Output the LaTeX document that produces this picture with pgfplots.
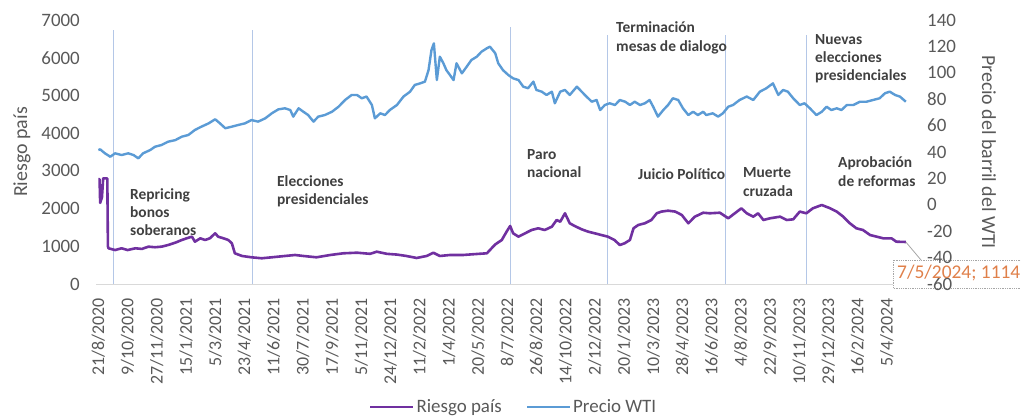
\documentclass[border=0pt]{standalone}
\usepackage{pgfplots}
\pgfplotsset{compat=1.18}
\usepackage{fontspec}
\setmainfont{Carlito}
\definecolor{purp}{HTML}{7030A0}
\definecolor{blu}{HTML}{5B9BD5}
\definecolor{vline}{HTML}{B4C7E7}
\definecolor{txtgray}{HTML}{595959}
\definecolor{anngray}{HTML}{404040}
\definecolor{axgray}{HTML}{D9D9D9}
\definecolor{callorange}{HTML}{E0804A}
\newcommand\tickfont{\fontsize{19}{22}\selectfont}
\newcommand\xtickfont{\fontsize{18}{20}\selectfont}
\newcommand\annfont{\fontsize{15.5}{18}\selectfont\bfseries}
\begin{document}
\begin{tikzpicture}
\useasboundingbox (0,0) rectangle (1021bp,418bp);
\begin{axis}[
  at={(96bp,134bp)}, anchor=south west, scale only axis,
  width=814bp, height=264bp,
  xmin=-4, xmax=1362, ymin=0, ymax=7000,
  axis x line*=bottom, axis y line*=left,
  x axis line style={draw=axgray, line width=1bp, -},
  y axis line style={draw=none},
  major tick length=0pt,
  xtick={0,49,...,1323},
  xticklabels={21/8/2020,9/10/2020,27/11/2020,15/1/2021,5/3/2021,23/4/2021,11/6/2021,30/7/2021,17/9/2021,5/11/2021,24/12/2021,11/2/2022,1/4/2022,20/5/2022,8/7/2022,26/8/2022,14/10/2022,2/12/2022,20/1/2023,10/3/2023,28/4/2023,16/6/2023,4/8/2023,22/9/2023,10/11/2023,29/12/2023,16/2/2024,5/4/2024},
  xticklabel style={rotate=90, anchor=east, inner sep=0pt, outer xsep=14bp, font=\xtickfont, text=txtgray},
  ytick={0,1000,...,7000},
  yticklabel style={anchor=east, inner sep=0pt, xshift=-16bp, font=\tickfont, text=txtgray},
  /pgf/number format/assume math mode=true,
  /pgf/number format/1000 sep={},
  ylabel={Riesgo país},
  ylabel style={at={(axis description cs:-0.0909,0.5)}, anchor=center, font=\fontsize{20}{22}\selectfont, text=txtgray},
  clip=false,
]
% event lines
\addplot[vline, line width=1bp, forget plot] coordinates {(25,0) (25,6736)};
\addplot[vline, line width=1bp, forget plot] coordinates {(258,0) (258,6736)};
\addplot[vline, line width=1bp, forget plot] coordinates {(691,0) (691,6815)};
\addplot[vline, line width=1bp, forget plot] coordinates {(855,0) (855,6600)};
\addplot[vline, line width=1bp, forget plot] coordinates {(1053,0) (1053,6600)};
\addplot[vline, line width=1bp, forget plot] coordinates {(1188,0) (1188,6600)};
% Riesgo pais
\addplot[purp, line width=2.6bp, line join=round] coordinates {
(0,2780) (2,2780) (3,2150) (6,2300) (8,2800) (15,2800) (16,1000) (17,947) (28,900) (39,947) (49,900) (62,947) (73,930) (84,990) (95,975) (106,990) (117,1034) (129,1095) (140,1167) (148,1211) (157,1255) (162,1122) (171,1211) (179,1167) (187,1211) (196,1344) (201,1255) (210,1211) (218,1167) (224,1079) (229,814) (241,743) (257,708) (274,682) (291,708) (313,743) (330,769) (344,743) (366,708) (389,769) (411,814) (434,830) (456,800) (467,857) (484,800) (501,780) (517,743) (534,690) (551,743) (562,830) (573,743) (590,769) (612,769) (635,796) (652,814) (657,900) (666,1050) (677,1167) (685,1387) (691,1538) (696,1344) (705,1255) (716,1344) (727,1432) (738,1477) (749,1432) (761,1520) (769,1697) (775,1650) (783,1875) (791,1610) (799,1540) (811,1450) (822,1387) (833,1344) (844,1299) (855,1255) (866,1167) (875,1034) (883,1079) (892,1167) (898,1477) (906,1565) (917,1610) (928,1697) (937,1875) (945,1920) (956,1944) (968,1920) (979,1830) (990,1610) (1001,1785) (1015,1890) (1026,1875) (1043,1890) (1057,1742) (1068,1875) (1079,2007) (1088,1875) (1099,1785) (1107,1875) (1116,1697) (1127,1742) (1144,1785) (1155,1697) (1166,1715) (1177,1920) (1188,1875) (1199,2007) (1214,2095) (1228,2007) (1239,1920) (1250,1785) (1261,1610) (1272,1477) (1283,1432) (1295,1299) (1306,1255) (1317,1211) (1331,1211) (1339,1122) (1355,1114)
};
% callout box and leader
\draw[gray!70, densely dotted, fill=white, line width=0.8bp] (rel axis cs:0.9791,0.0909) rectangle (rel axis cs:1.1597,-0.0152);
\draw[gray!70, line width=0.8bp] (axis cs:1355,1114) -- (rel axis cs:1.0135,0.0909);
\end{axis}
\begin{axis}[
  at={(96bp,134bp)}, anchor=south west, scale only axis,
  width=814bp, height=264bp,
  xmin=-4, xmax=1362, ymin=-60, ymax=140,
  axis x line=none, axis y line*=right,
  y axis line style={draw=none},
  major tick length=0pt,
  ytick={-60,-40,...,140},
  yticklabel style={anchor=west, inner sep=0pt, xshift=17bp, font=\tickfont, text=txtgray},
  /pgf/number format/assume math mode=true,
  ylabel={Precio del barril del WTI},
  ylabel style={at={(axis description cs:1.097,0.5)}, anchor=center, rotate=180, font=\fontsize{20}{22}\selectfont, text=txtgray},
  clip=false,
  legend style={at={(axis description cs:0.513,-0.466)}, anchor=center, draw=none, fill=none,
    font=\fontsize{19}{22}\selectfont, text=txtgray, legend columns=2, inner sep=0pt,
    /tikz/every even column/.append style={column sep=22bp}},
  legend cell align=left,
  legend image code/.code={\draw[#1] (0bp,0bp) -- (43bp,0bp);},
]
\addlegendimage{purp, line width=2.6bp}
\addlegendentry{Riesgo país}
\addplot[blu, line width=2.4bp, line join=round] coordinates {
(0,41.5) (3,42) (11,39) (20,36.4) (28,39) (39,37.7) (50,39) (59,37.7) (67,35.2) (75,39) (87,41.5) (95,44) (106,45.3) (117,47.8) (129,49) (140,51.6) (151,52.9) (162,56.7) (173,59.2) (185,61.7) (196,64.8) (204,61.7) (213,58) (224,59.2) (235,60.5) (246,61.7) (257,64.2) (268,63) (280,65.5) (291,69.3) (302,72.3) (313,73.1) (322,71.8) (327,66.8) (336,73.1) (344,70.5) (352,68) (361,63) (369,66.8) (380,68) (392,70.5) (403,74.3) (414,79.4) (425,83.2) (434,83.2) (442,80.7) (450,82) (459,75.6) (464,65.5) (473,69.3) (481,68) (489,71.8) (501,75.6) (512,82) (523,85.7) (531,90.8) (540,92) (548,93.3) (554,102) (559,117.3) (563,122.3) (568,94.5) (573,112.2) (579,107.2) (584,102) (590,98.3) (596,94.5) (601,107.2) (610,99.6) (618,104.6) (626,109.7) (635,112.2) (643,116) (652,118.6) (657,119.8) (666,114.8) (671,107.2) (679,102) (688,98.3) (696,95.8) (705,94.5) (713,89.5) (721,88.3) (730,93.3) (735,87) (744,85.7) (752,83.2) (761,85.7) (766,76.9) (775,85.7) (783,87) (791,83.2) (803,89.5) (811,85.7) (819,82) (828,78.1) (836,79.4) (842,71.8) (850,75.6) (858,76.9) (867,75.6) (875,79.4) (884,78.1) (892,75.6) (900,78.1) (909,75.6) (917,76.9) (925,79.4) (931,74.3) (939,66.8) (948,71.8) (956,75.6) (964,80.7) (973,79.4) (981,73.1) (990,68) (998,70.5) (1006,68) (1015,70.5) (1020,68) (1031,69.3) (1040,66.8) (1048,69.3) (1057,74.3) (1065,75.6) (1076,79.4) (1088,82) (1099,79.4) (1110,85.7) (1121,88.3) (1132,92) (1141,83.2) (1149,87) (1157,85.7) (1166,80.7) (1177,75.6) (1185,76.9) (1194,73.1) (1205,68) (1214,70.5) (1222,74.3) (1230,71.8) (1239,73.1) (1247,71.8) (1256,75.6) (1267,75.6) (1278,78.1) (1289,78.1) (1300,79.4) (1311,80.7) (1320,84.5) (1328,85.7) (1337,83.2) (1345,82) (1355,78.1)
};
\addlegendentry{Precio WTI}
\end{axis}
% annotations
\begin{scope}[every node/.style={anchor=base west, inner sep=0pt, font=\annfont, text=anngray}]
\node at (130bp,218bp) {Repricing};
\node at (130bp,200bp) {bonos};
\node at (130bp,182bp) {soberanos};
\node at (277bp,231bp) {Elecciones};
\node at (277bp,213bp) {presidenciales};
\node at (527bp,258bp) {Paro};
\node at (527bp,240bp) {nacional};
\node at (616bp,385bp) {Terminación};
\node at (616bp,366.5bp) {mesas de dialogo};
\node at (638bp,238bp) {Juicio Político};
\node at (743bp,240bp) {Muerte};
\node at (743bp,221bp) {cruzada};
\node at (815bp,373bp) {Nuevas};
\node at (815bp,355bp) {elecciones};
\node at (815bp,337.5bp) {presidenciales};
\node at (838bp,250bp) {Aprobación};
\node at (838bp,231bp) {de reformas};
\end{scope}
\node[anchor=base west, inner sep=0pt, font=\fontsize{19.5}{22}\selectfont, text=callorange] at (897bp,139bp) {7/5/2024; 1114};
\end{tikzpicture}
\end{document}
